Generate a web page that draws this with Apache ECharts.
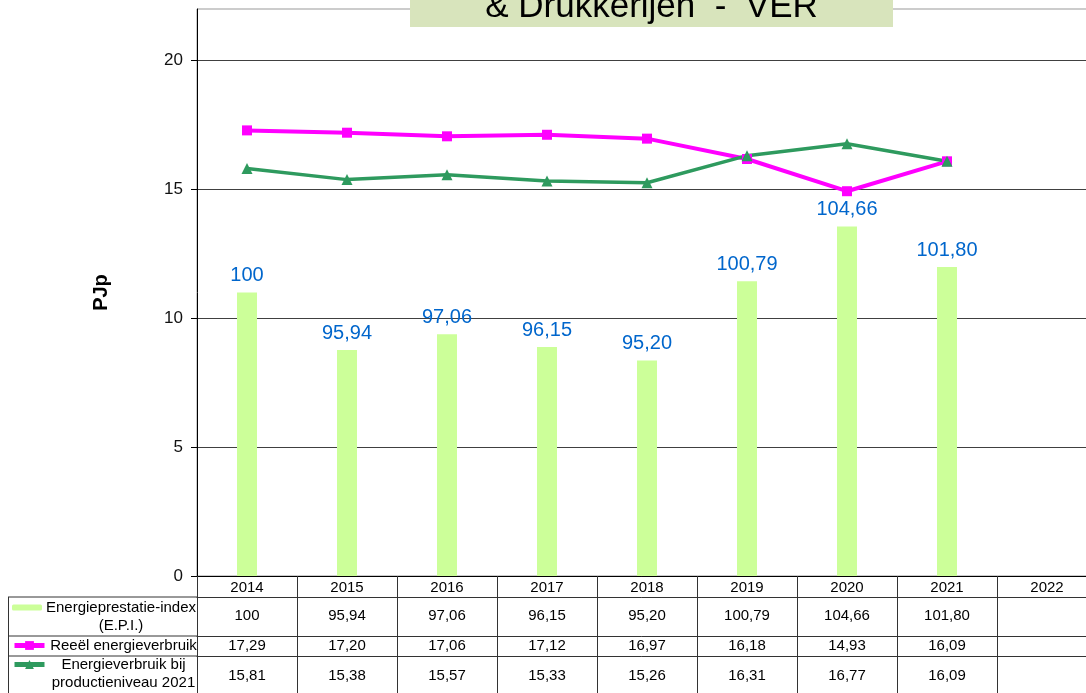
<!DOCTYPE html>
<html>
<head>
<meta charset="utf-8">
<script src="https://cdn.jsdelivr.net/npm/echarts@6/dist/echarts.min.js"></script>
<style>
  html, body { margin: 0; padding: 0; background: #fff; }
  #chart { width: 1086px; height: 693px; }
</style>
</head>
<body>
<div id="chart"></div>
<script>
// Years shown along the category axis / table header
const years = ['2014', '2015', '2016', '2017', '2018', '2019', '2020', '2021', '2022'];

// Energieprestatie-index (index, 2014 = 100)
const epi = [100, 95.94, 97.06, 96.15, 95.20, 100.79, 104.66, 101.80];
// Reeël energieverbruik (PJp)
const reeel = [17.29, 17.20, 17.06, 17.12, 16.97, 16.18, 14.93, 16.09];
// Energieverbruik bij productieniveau 2021 (PJp)
const bijProductie = [15.81, 15.38, 15.57, 15.33, 15.26, 16.31, 16.77, 16.09];

// Primary axis tick values (PJp)
const pjTicks = [0, 5, 10, 15, 20];

const NAME_EPI = 'Energieprestatie-index (E.P.I.)';
const NAME_REEEL = 'Reeël energieverbruik';
const NAME_PROD = 'Energieverbruik bij productieniveau 2021';

const FONT = 'Liberation Sans, Arial, sans-serif';

function fmt(v) {
  if (v == null) return '';
  if (Number.isInteger(v)) return String(v);
  return v.toFixed(2).replace('.', ',');
}
function row(arr) {
  return years.map((_, i) => fmt(arr[i]));
}

const chart = echarts.init(document.getElementById('chart'));

// Table rows drawn as extra category axes stacked below the plot
function tableAxis(values, offset, margin) {
  return {
    type: 'category',
    gridIndex: 0,
    position: 'bottom',
    offset: offset,
    data: values,
    axisLine: { show: true, lineStyle: { color: '#333', width: 1 } },
    axisTick: { show: false },
    splitLine: { show: false },
    axisLabel: {
      interval: 0, margin: margin, fontSize: 15, color: '#000',
      fontFamily: FONT, verticalAlign: 'middle'
    }
  };
}

const legendRich = {
  a: { width: 148, align: 'center', fontSize: 15, lineHeight: 18, color: '#000', fontFamily: FONT },
  s: { fontSize: 15, lineHeight: 18 }
};
// two-line entries get an empty leading line so the key sits beside the first line
const legendLabels = {};
legendLabels[NAME_EPI] = '{s| }\n{a|Energieprestatie-index}\n{a|(E.P.I.)}';
legendLabels[NAME_REEEL] = '{a|Reeël energieverbruik}';
legendLabels[NAME_PROD] = '{s| }\n{a|Energieverbruik bij}\n{a|productieniveau 2021}';

function legendFor(name, top, h) {
  return {
    data: [name],
    orient: 'vertical',
    left: 12,
    top: top,
    padding: 0,
    itemWidth: 30,
    itemHeight: h,
    itemGap: 0,
    selectedMode: false,
    lineStyle: { width: 5 },
    formatter: n => legendLabels[n],
    textStyle: { rich: legendRich }
  };
}

const option = {
  animation: false,
  backgroundColor: '#fff',
  textStyle: { fontFamily: FONT },
  grid: {
    left: 197, top: 9, width: 900, height: 567,
    show: true, borderColor: '#999', borderWidth: 1,
    outerBoundsMode: 'none'
  },
  legend: [
    legendFor(NAME_EPI, 582, 6),
    legendFor(NAME_REEEL, 638, 11),
    legendFor(NAME_PROD, 639, 11)
  ],
  xAxis: [
    {
      type: 'category',
      gridIndex: 0,
      position: 'bottom',
      data: years,
      axisLine: { show: true, lineStyle: { color: '#000', width: 1 } },
      axisTick: { show: true, alignWithLabel: false, interval: 0, length: 117, lineStyle: { color: '#333' } },
      axisLabel: { interval: 0, margin: 4, fontSize: 15, color: '#000', fontFamily: FONT },
      splitLine: { show: false }
    },
    tableAxis(row(epi), 21, 19),
    tableAxis(row(reeel), 60, 10),
    tableAxis(row(bijProductie), 80, 20)
  ],
  yAxis: [
    {
      type: 'value',
      min: 0,
      max: 22,
      interval: 5,
      name: 'PJp',
      nameLocation: 'middle',
      nameGap: 86,
      nameTextStyle: { fontSize: 20, fontWeight: 'bold', color: '#000', fontFamily: FONT },
      axisLine: { show: true, lineStyle: { color: '#000', width: 1 } },
      axisTick: { show: true, length: 6, lineStyle: { color: '#000' }, customValues: pjTicks },
      axisLabel: {
        fontSize: 17, color: '#111', margin: 14, fontFamily: FONT,
        customValues: pjTicks
      },
      splitLine: { show: true, lineStyle: { color: '#404040', width: 1 } }
    },
    {
      // hidden index scale for the E.P.I. bars
      type: 'value',
      min: 80,
      max: 120,
      show: false,
      splitLine: { show: false }
    }
  ],
  series: [
    {
      name: NAME_EPI,
      type: 'bar',
      xAxisIndex: 0,
      yAxisIndex: 1,
      data: epi,
      barWidth: 20,
      itemStyle: { color: '#CCFF99' },
      label: {
        show: true,
        position: 'top',
        distance: 7,
        fontSize: 20,
        color: '#0066CC',
        fontFamily: FONT,
        formatter: p => fmt(p.value)
      }
    },
    {
      name: NAME_REEEL,
      type: 'line',
      xAxisIndex: 0,
      yAxisIndex: 0,
      data: reeel,
      symbol: 'rect',
      symbolSize: 10,
      lineStyle: { color: '#FF00FF', width: 4 },
      itemStyle: { color: '#FF00FF' }
    },
    {
      name: NAME_PROD,
      type: 'line',
      xAxisIndex: 0,
      yAxisIndex: 0,
      data: bijProductie,
      symbol: 'triangle',
      symbolSize: 11,
      lineStyle: { color: '#2E9A5E', width: 3.5 },
      itemStyle: { color: '#2E9A5E' }
    }
  ],
  graphic: [
    // left column of the data table
    { type: 'line', shape: { x1: 8, y1: 597, x2: 197, y2: 597 }, style: { stroke: '#333', lineWidth: 1 } },
    { type: 'line', shape: { x1: 8, y1: 636, x2: 197, y2: 636 }, style: { stroke: '#333', lineWidth: 1 } },
    { type: 'line', shape: { x1: 8, y1: 656, x2: 197, y2: 656 }, style: { stroke: '#333', lineWidth: 1 } },
    { type: 'line', shape: { x1: 8.5, y1: 597, x2: 8.5, y2: 693 }, style: { stroke: '#333', lineWidth: 1 } },
    // title box
    { type: 'rect', shape: { x: 410, y: -40, width: 483, height: 67 }, style: { fill: '#D8E4BC' }, z: 10 },
    {
      type: 'text', x: 651.5, y: 25, z: 11,
      style: {
        text: '& Drukkerijen  -  VER', fontSize: 35, fontFamily: FONT, fill: '#000',
        align: 'center', verticalAlign: 'bottom'
      }
    }
  ]
};

chart.setOption(option);
</script>
</body>
</html>
